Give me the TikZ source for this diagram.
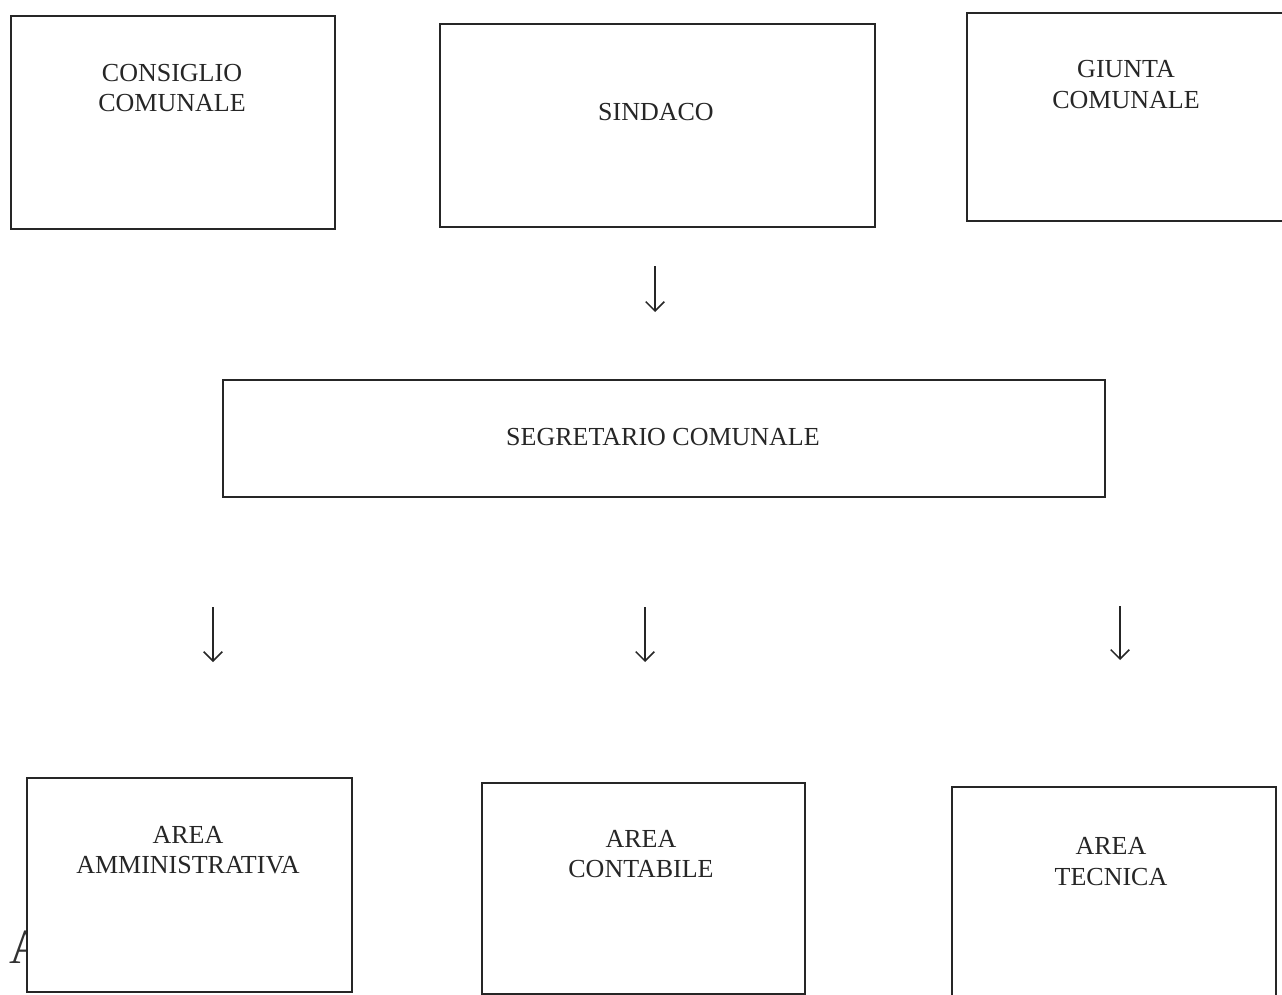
\documentclass[tikz,border=0pt]{standalone}
\usepackage{fontspec}
\setmainfont{Liberation Serif}
\usetikzlibrary{arrows.meta}
\begin{document}
\begin{tikzpicture}[x=0.75pt,y=-0.75pt,
  box/.style={draw=black!85, line width=1.4pt, fill=white, inner sep=0pt, anchor=north west},
  lbl/.style={font=\fontsize{19.5}{23}\selectfont, align=center, inner sep=0pt, text=black!85},
  arr/.style={line width=1.1pt, draw=black!85, -{Straight Barb[length=7pt,width=14pt,line width=1.1pt]}}]
\useasboundingbox (0,0) rectangle (1282,995);
\fill[white] (0,0) rectangle (1282,995);
% stray letter partly hidden behind the first bottom box
\node[font=\fontsize{37}{40}\selectfont, anchor=base west, inner sep=0pt, text=black!80] (stray) at (9,963) {A};
% top row
\node[box, minimum width={324*0.75pt}, minimum height={213*0.75pt}] (cc) at (10,15) {};
\node[lbl] (cct) at (172,88) {CONSIGLIO\\COMUNALE};
\node[box, minimum width={435*0.75pt}, minimum height={203*0.75pt}] (sin) at (439,23) {};
\node[lbl] (sint) at (656,112) {SINDACO};
\node[box, minimum width={330*0.75pt}, minimum height={208*0.75pt}] (gc) at (966,12) {};
\node[lbl] (gct) at (1126,84.5) {GIUNTA\\COMUNALE};
% arrow under Sindaco
\coordinate (a1s) at (655,266);
\coordinate (a1e) at (655,312);
\draw[arr] (a1s) -- (a1e);
% segretario
\node[box, minimum width={882*0.75pt}, minimum height={117*0.75pt}] (seg) at (222,379) {};
\node[lbl] (segt) at (663,437) {SEGRETARIO COMUNALE};
% three arrows
\coordinate (a2s) at (213,607);
\coordinate (a2e) at (213,662);
\coordinate (a3s) at (645,607);
\coordinate (a3e) at (645,662);
\coordinate (a4s) at (1120,606);
\coordinate (a4e) at (1120,660);
\draw[arr] (a2s) -- (a2e);
\draw[arr] (a3s) -- (a3e);
\draw[arr] (a4s) -- (a4e);
% bottom row
\node[box, minimum width={325*0.75pt}, minimum height={214*0.75pt}] (amm) at (26,777) {};
\node[lbl] (ammt) at (188,850) {AREA\\AMMINISTRATIVA};
\node[box, minimum width={323*0.75pt}, minimum height={211*0.75pt}] (con) at (481,782) {};
\node[lbl] (cont) at (641,854) {AREA\\CONTABILE};
\node[box, minimum width={324*0.75pt}, minimum height={230*0.75pt}] (tec) at (951,786) {};
\node[lbl] (tect) at (1111,861.5) {AREA\\TECNICA};
\end{tikzpicture}
\end{document}
